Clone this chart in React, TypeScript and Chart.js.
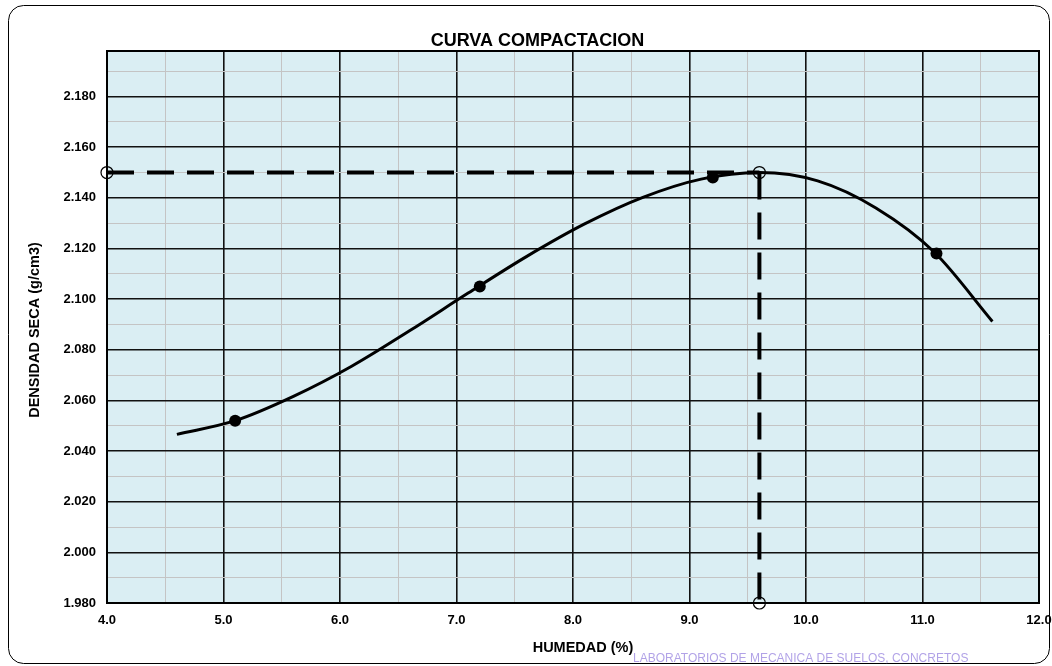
import { useEffect, useRef } from 'react';
import { Chart, registerables } from 'chart.js';

Chart.register(...registerables);

// ---- data ----
const curveX = [4.6, 5.1, 5.6, 6.1, 6.6, 7.1, 7.6, 8.1, 8.6, 9.1, 9.6, 10.1, 10.6, 11.1, 11.6];
const curveY = [2.0466, 2.052, 2.0616, 2.0735, 2.0876, 2.1024, 2.1168, 2.1297, 2.1402, 2.1474, 2.15, 2.1467, 2.136, 2.1186, 2.0912];
const sampleX = [5.1, 7.2, 9.2, 11.12];
const sampleY = [2.052, 2.105, 2.148, 2.118];
const optimumX = 9.6;
const optimumY = 2.15;
const xMin = 4;
const xMax = 12;
const yMin = 1.98;
const yMax = 2.198;
const titleText = 'CURVA COMPACTACION';
const xTitleText = 'HUMEDAD (%)';
const yTitleText = 'DENSIDAD SECA (g/cm3)';
const watermarkText = 'LABORATORIOS DE MECANICA DE SUELOS, CONCRETOS';

const FONT = 'Arial, "Liberation Sans", sans-serif';

export default function App() {
  const ref = useRef<HTMLCanvasElement | null>(null);

  useEffect(() => {
    document.body.style.margin = '0';
    const canvas = ref.current;
    if (!canvas) return;

    const decor = {
      id: 'decor',
      beforeDraw(chart: any) {
        const { ctx, chartArea: a } = chart;
        ctx.save();
        ctx.fillStyle = '#ffffff';
        ctx.fillRect(0, 0, chart.width, chart.height);
        ctx.fillStyle = '#DAEEF3';
        ctx.fillRect(a.left, a.top, a.right - a.left, a.bottom - a.top);
        ctx.restore();
      },
      beforeDatasetsDraw(chart: any) {
        const { ctx, chartArea: a } = chart;
        ctx.save();
        ctx.strokeStyle = '#000';
        ctx.lineWidth = 2;
        ctx.strokeRect(a.left, a.top, a.right - a.left, a.bottom - a.top);
        ctx.restore();
      },
      afterDraw(chart: any) {
        const { ctx } = chart;
        ctx.save();
        // outer rounded frame
        ctx.strokeStyle = '#000';
        ctx.lineWidth = 1;
        ctx.beginPath();
        ctx.roundRect(8.5, 5.5, 1041, 658, 15);
        ctx.stroke();
        // title
        ctx.fillStyle = '#000';
        ctx.font = `bold 18px ${FONT}`;
        ctx.textAlign = 'center';
        ctx.textBaseline = 'alphabetic';
        ctx.fillText(titleText, 537.5, 45.5);
        // x title
        ctx.font = `bold 14.5px ${FONT}`;
        ctx.fillText(xTitleText, 583, 652);
        // y title
        ctx.save();
        ctx.translate(35, 330);
        ctx.rotate(-Math.PI / 2);
        ctx.textBaseline = 'middle';
        ctx.fillText(yTitleText, 0, 0);
        ctx.restore();
        // watermark
        ctx.font = `12px ${FONT}`;
        ctx.textAlign = 'left';
        ctx.fillStyle = 'rgba(125,100,215,0.6)';
        ctx.fillText(watermarkText, 633, 662);
        ctx.restore();
      },
    };

    const isMajorY = (v: number) => Math.round(v * 100) % 2 === 0;
    const isMajorX = (v: number) => Math.abs(v - Math.round(v)) < 1e-6;

    const chart = new Chart(canvas, {
      type: 'scatter',
      data: {
        datasets: [
          {
            label: 'ensayos',
            data: sampleX.map((x, i) => ({ x, y: sampleY[i] })),
            showLine: false,
            pointRadius: 6,
            pointBackgroundColor: '#000',
            pointBorderColor: '#000',
            pointBorderWidth: 0,
          },
          {
            label: 'optimo',
            data: [
              { x: xMin, y: optimumY },
              { x: optimumX, y: optimumY },
              { x: optimumX, y: yMin },
            ],
            showLine: false,
            pointRadius: 6,
            pointBackgroundColor: 'rgba(0,0,0,0)',
            pointBorderColor: '#000',
            pointBorderWidth: 1.2,
            clip: false,
          },
          {
            label: 'curva',
            data: curveX.map((x, i) => ({ x, y: curveY[i] })),
            showLine: true,
            borderColor: '#000',
            borderWidth: 3,
            pointRadius: 0,
            cubicInterpolationMode: 'monotone',
          },
          {
            label: 'h',
            data: [
              { x: xMin, y: optimumY },
              { x: optimumX, y: optimumY },
            ],
            showLine: true,
            borderColor: '#000',
            borderWidth: 4,
            borderDash: [27, 13],
            borderCapStyle: 'butt',
            pointRadius: 0,
            clip: false,
          },
          {
            label: 'v',
            data: [
              { x: optimumX, y: optimumY },
              { x: optimumX, y: yMin },
            ],
            showLine: true,
            borderColor: '#000',
            borderWidth: 4,
            borderDash: [27, 13],
            borderCapStyle: 'butt',
            pointRadius: 0,
            clip: false,
          },
        ],
      },
      options: {
        responsive: false,
        animation: false,
        devicePixelRatio: 1,
        layout: { padding: { left: 0, top: 51, right: 13, bottom: 0 } },
        plugins: {
          legend: { display: false },
          tooltip: { enabled: false },
          title: { display: false },
        },
        scales: {
          x: {
            type: 'linear',
            min: xMin,
            max: xMax,
            afterFit(s: any) {
              s.height = 63;
              s.paddingLeft = 0;
              s.paddingRight = 0;
            },
            border: { display: false },
            grid: {
              drawTicks: false,
              color: (c: any) => (isMajorX(c.tick.value) ? '#111' : '#c4c4c4'),
              lineWidth: (c: any) => (isMajorX(c.tick.value) ? 1.6 : 1),
            },
            ticks: {
              stepSize: 0.5,
              autoSkip: false,
              maxRotation: 0,
              includeBounds: false,
              padding: 10,
              color: '#000',
              font: { family: FONT, size: 13, weight: 'bold' },
              callback: (v: any) => (isMajorX(Number(v)) ? Number(v).toFixed(1) : ''),
            },
          },
          y: {
            type: 'linear',
            min: yMin,
            max: yMax,
            afterFit(s: any) {
              s.width = 107;
              s.paddingTop = 0;
              s.paddingBottom = 0;
            },
            border: { display: false },
            grid: {
              drawTicks: false,
              color: (c: any) => (isMajorY(c.tick.value) ? '#111' : '#c4c4c4'),
              lineWidth: (c: any) => (isMajorY(c.tick.value) ? 1.6 : 1),
            },
            ticks: {
              stepSize: 0.01,
              autoSkip: false,
              includeBounds: false,
              padding: 11,
              color: '#000',
              font: { family: FONT, size: 13, weight: 'bold' },
              callback: (v: any) => (isMajorY(Number(v)) ? Number(v).toFixed(3) : ''),
            },
          },
        },
      },
      plugins: [decor],
    } as any);

    return () => chart.destroy();
  }, []);

  return (
    <div style={{ width: 1052, height: 666 }}>
      <canvas ref={ref} width={1052} height={666} style={{ display: 'block' }} />
    </div>
  );
}
